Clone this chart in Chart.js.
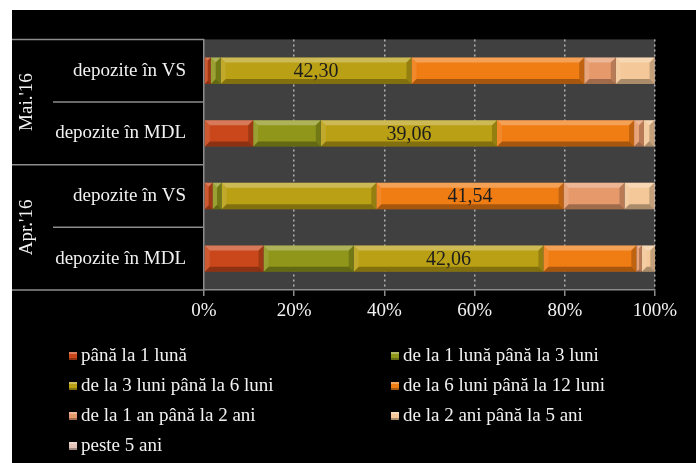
<!DOCTYPE html>
<html>
<head>
<meta charset="utf-8">
<script src="https://cdn.jsdelivr.net/npm/chart.js@4.4.0/dist/chart.umd.min.js"></script>
<style>
  html, body { margin: 0; padding: 0; background: #fff; }
  #wrap { position: absolute; left: 12px; top: 10px; width: 684px; height: 453px; background: #000; overflow: hidden; }
  #chart { position: absolute; left: 0; top: 0; }
  #legend { position: absolute; left: 0; top: 0; width: 684px; height: 453px;
            font-family: 'Liberation Serif', 'Times New Roman', serif; font-size: 19px; color: #f2f2f2; }
  .item { position: absolute; white-space: nowrap; line-height: 20px; }
  .box { display: inline-block; width: 8px; height: 8px; margin-right: 4px; vertical-align: 1px; }
</style>
</head>
<body>
<div id="wrap">
  <canvas id="chart" width="684" height="320"></canvas>
  <div id="legend"></div>
</div>
<script>
// categories, top to bottom
const categories = ['depozite în VS', 'depozite în MDL', 'depozite în VS', 'depozite în MDL'];
// groups of two categories each
const groups = ["Mai.'16", "Apr.'16"];

const seriesNames = ['până la 1 lună', 'de la 1 lună până la 3 luni', 'de la 3 luni până la 6 luni',
                     'de la 6 luni până la 12 luni', 'de la 1 an până la 2 ani', 'de la 2 ani până la 5 ani',
                     'peste 5 ani'];

// share of deposits, %
const upTo1Month   = [1.5, 10.9, 1.9, 13.2];
const from1to3     = [2.2, 15.0, 2.0, 20.0];
const from3to6     = [42.30, 39.06, 34.3, 42.06];
const from6to12    = [38.3, 30.4, 41.54, 20.6];
const from1to2Yrs  = [7.0, 2.2, 13.5, 1.2];
const from2to5Yrs  = [8.6, 2.3, 6.6, 3.0];
const over5Yrs     = [0.1, 0.1, 0.2, 0.0];

const xTicks = [0, 20, 40, 60, 80, 100];

const colors = ['#c9471a', '#8f961a', '#baa014', '#f07c14', '#e69a6c', '#f4c898', '#e2c4bc'];
const series = [upTo1Month, from1to3, from3to6, from6to12, from1to2Yrs, from2to5Yrs, over5Yrs];

const LINE = '#8c8c8c';
const SERIF = "'Liberation Serif', 'Times New Roman', serif";

// gray plot background + the table on the left
const frame = {
    id: 'frame',
    beforeDraw(chart) {
        const a = chart.chartArea, ctx = chart.ctx;
        ctx.save();
        ctx.fillStyle = '#404040';
        ctx.fillRect(a.left, a.top, a.right - a.left, a.bottom - a.top);
        ctx.restore();
    },
    afterDraw(chart) {
        const a = chart.chartArea, ctx = chart.ctx, y = chart.scales.y;
        const mid = (i) => (y.getPixelForValue(i) + y.getPixelForValue(i + 1)) / 2;
        ctx.save();
        ctx.strokeStyle = LINE;
        ctx.lineWidth = 1.5;
        const hline = (x0, yy) => { ctx.beginPath(); ctx.moveTo(x0, yy); ctx.lineTo(a.left, yy); ctx.stroke(); };
        hline(0, a.top);
        hline(41, mid(0));
        hline(0, mid(1));
        hline(41, mid(2));
        hline(0, a.bottom);
        // group labels
        ctx.fillStyle = '#f2f2f2';
        ctx.font = '19px ' + SERIF;
        ctx.textAlign = 'center';
        ctx.textBaseline = 'middle';
        const bounds = [a.top, mid(1), a.bottom];
        groups.forEach((g, i) => {
            ctx.save();
            ctx.translate(15, (bounds[i] + bounds[i + 1]) / 2);
            ctx.rotate(-Math.PI / 2);
            ctx.fillText(g, 0, 0);
            ctx.restore();
        });
        ctx.restore();
    }
};

// bevelled look of the bars
const bevel = {
    id: 'bevel',
    afterDatasetsDraw(chart) {
        const ctx = chart.ctx;
        const poly = (pts, fill) => {
            ctx.beginPath();
            ctx.moveTo(pts[0][0], pts[0][1]);
            pts.slice(1).forEach(p => ctx.lineTo(p[0], p[1]));
            ctx.closePath();
            ctx.fillStyle = fill;
            ctx.fill();
        };
        ctx.save();
        chart.data.datasets.forEach((ds, i) => {
            chart.getDatasetMeta(i).data.forEach(bar => {
                const l = Math.min(bar.x, bar.base), r = Math.max(bar.x, bar.base);
                const t = bar.y - bar.height / 2, b = bar.y + bar.height / 2;
                const w = r - l;
                if (w < 1) return;
                const d = Math.min(5, w / 2, bar.height / 2);
                poly([[l, t], [r, t], [r - d, t + d], [l + d, t + d]], 'rgba(255,255,255,0.28)');
                poly([[l, b], [r, b], [r - d, b - d], [l + d, b - d]], 'rgba(0,0,0,0.30)');
                poly([[l, t], [l + d, t + d], [l + d, b - d], [l, b]], 'rgba(255,255,255,0.10)');
                poly([[r, t], [r - d, t + d], [r - d, b - d], [r, b]], 'rgba(0,0,0,0.20)');
            });
        });
        ctx.restore();
    }
};

// value of the biggest segment in each bar
const valueLabels = {
    id: 'valueLabels',
    afterDatasetsDraw(chart) {
        const ctx = chart.ctx;
        ctx.save();
        ctx.font = '20px ' + SERIF;
        ctx.fillStyle = '#1c1c1c';
        ctx.textAlign = 'center';
        ctx.textBaseline = 'middle';
        categories.forEach((c, j) => {
            let best = 0;
            series.forEach((s, i) => { if (s[j] > series[best][j]) best = i; });
            const bar = chart.getDatasetMeta(best).data[j];
            const v = series[best][j].toFixed(2).replace('.', ',');
            ctx.fillText(v, (bar.x + bar.base) / 2, bar.y + 1);
        });
        ctx.restore();
    }
};

const chart = new Chart(document.getElementById('chart'), {
    type: 'bar',
    data: {
        labels: categories,
        datasets: series.map((s, i) => ({
            label: seriesNames[i],
            data: s,
            backgroundColor: colors[i],
            borderWidth: 0,
            barPercentage: 0.42,
            categoryPercentage: 1
        }))
    },
    options: {
        indexAxis: 'y',
        responsive: false,
        animation: false,
        layout: { padding: { top: 25, right: 41, left: 0, bottom: 0 } },
        plugins: {
            legend: { display: false },
            tooltip: { enabled: false }
        },
        scales: {
            x: {
                stacked: true,
                min: 0,
                max: 100,
                afterBuildTicks: (scale) => { scale.ticks = xTicks.map(v => ({ value: v })); },
                afterFit: (scale) => { scale.height = 40; },
                ticks: {
                    callback: (v) => v + '%',
                    color: '#f2f2f2',
                    font: { family: SERIF, size: 19 },
                    padding: 4,
                    maxRotation: 0
                },
                grid: {
                    color: (c) => (c.tick && c.tick.value === 0) ? 'rgba(0,0,0,0)' : '#b4b4b4',
                    lineWidth: 1.5,
                    tickColor: LINE,
                    tickLength: 6,
                    tickWidth: 1.5
                },
                border: { display: true, color: LINE, width: 1.5, dash: [2, 3] }
            },
            y: {
                stacked: true,
                afterFit: (scale) => { scale.width = 192; },
                ticks: {
                    color: '#f2f2f2',
                    font: { family: SERIF, size: 19 },
                    padding: 18
                },
                grid: { display: false, drawTicks: false },
                border: { display: true, color: LINE, width: 1.5 }
            }
        }
    },
    plugins: [frame, bevel, valueLabels]
});

// two-column legend under the chart
const legend = document.getElementById('legend');
seriesNames.forEach((name, i) => {
    const item = document.createElement('div');
    item.className = 'item';
    item.style.left = (i % 2 === 0 ? 57 : 379) + 'px';
    item.style.top = (335 + Math.floor(i / 2) * 30) + 'px';
    const box = document.createElement('span');
    box.className = 'box';
    box.style.background = colors[i];
    box.style.boxShadow = 'inset 0 2px 0 rgba(255,255,255,0.3), inset 0 -2px 0 rgba(0,0,0,0.3)';
    item.appendChild(box);
    item.appendChild(document.createTextNode(name));
    legend.appendChild(item);
});
</script>
</body>
</html>
